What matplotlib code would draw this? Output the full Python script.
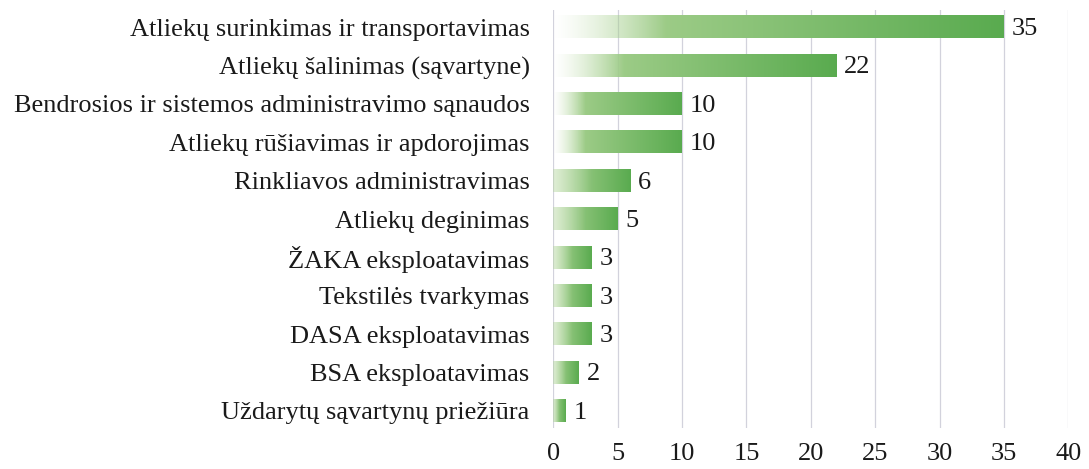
import numpy as np
import matplotlib
matplotlib.use("Agg")
import matplotlib.pyplot as plt

categories = [
    "Atliekų surinkimas ir transportavimas",
    "Atliekų šalinimas (sąvartyne)",
    "Bendrosios ir sistemos administravimo sąnaudos",
    "Atliekų rūšiavimas ir apdorojimas",
    "Rinkliavos administravimas",
    "Atliekų deginimas",
    "ŽAKA eksploatavimas",
    "Tekstilės tvarkymas",
    "DASA eksploatavimas",
    "BSA eksploatavimas",
    "Uždarytų sąvartynų priežiūra",
]
values = [35, 22, 10, 10, 6, 5, 3, 3, 3, 2, 1]
xticks = [0, 5, 10, 15, 20, 25, 30, 35, 40]

plt.rcParams['font.family'] = ['Liberation Serif', 'DejaVu Serif']

fig = plt.figure(figsize=(10.89, 4.69), dpi=100)
ax = fig.add_axes([0.508, 0.087, 0.473, 0.892])

light = np.array([0.70, 0.84, 0.60])
dark = np.array([0.35, 0.67, 0.31])
N = 256
t = np.linspace(0, 1, N)
bar_h = 0.58
FS = 19
for i, v in enumerate(values):
    rgb = light[None, :] * (1 - t[:, None]) + dark[None, :] * t[:, None]
    if v > 8:
        alpha = np.clip(t / 0.25, 0, 1) ** 1.3
    else:
        alpha = 0.4 + 0.6 * np.clip(t / 0.5, 0, 1)
    img = np.concatenate([rgb, alpha[:, None]], axis=1)[None, :, :]
    ax.imshow(img, extent=[0, v, i + bar_h / 2, i - bar_h / 2], aspect='auto',
              interpolation='bilinear', zorder=3)
    ax.text(v + 0.6, i + 0.05, str(v), va='center', ha='left',
            fontsize=FS, color='#1a1a1a', zorder=4)

ax.set_xlim(0, 40)
ax.set_ylim(10.45, -0.45)
ax.set_yticks(range(len(categories)))
ax.set_yticklabels(categories, fontsize=FS, color='#1a1a1a')
ax.set_xticks(xticks)
ax.set_xticklabels([str(x) for x in xticks], fontsize=FS, color='#1a1a1a')
ax.tick_params(axis='both', length=0)
ax.tick_params(axis='x', pad=11)
ax.tick_params(axis='y', pad=17)
ax.grid(axis='x', color='#d2d2dc', linewidth=0.9, zorder=0)
ax.set_axisbelow(True)
for s in ax.spines.values():
    s.set_visible(False)

fig.savefig("out.png", dpi=100)
